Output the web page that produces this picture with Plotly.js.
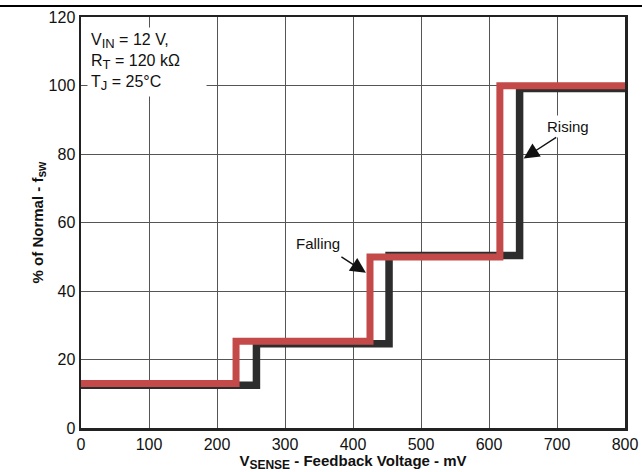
<!DOCTYPE html>
<html>
<head>
<meta charset="utf-8">
<script src="https://cdn.plot.ly/plotly-3.0.1.min.js"></script>
<style>
html,body{margin:0;padding:0;background:#fff;}
#chart{width:642px;height:472px;}
</style>
</head>
<body>
<div id="chart"></div>
<script>
// Rising (dark) and Falling (red) step curves: V_SENSE (mV) vs % of normal fsw
const risingX  = [0, 258, 258, 453, 453, 645, 645, 800];
const risingY  = [12.5, 12.5, 24.6, 24.6, 50.4, 50.4, 99.1, 99.1];
const fallingX = [0, 228, 228, 425, 425, 616, 616, 800];
const fallingY = [13.0, 13.0, 25.3, 25.3, 49.9, 49.9, 99.9, 99.9];
const xTicks = [0, 100, 200, 300, 400, 500, 600, 700, 800];
const yTicks = [0, 20, 40, 60, 80, 100, 120];
const SUB = (t, s) => '<sub><span style="font-size:' + s + 'px">' + t + '</span></sub>';
const conditionText = 'V' + SUB('IN', 13) + ' = 12 V,<br>R' + SUB('T', 13) + ' = 120 kΩ<br>T' + SUB('J', 13) + ' = 25°C';
const fallingLabel = 'Falling';
const risingLabel = 'Rising';
const xTitle = '<b>V' + SUB('SENSE', 12) + ' - Feedback Voltage - mV</b>';
const yTitle = '<b>% of Normal - f' + SUB('sw', 12) + '</b>';

const FONT = 'Liberation Sans, Arial, Helvetica, sans-serif';

const traces = [
  {x: risingX, y: risingY, mode: 'lines', line: {color: '#2d2d2d', width: 7.5, shape: 'linear'}, hoverinfo: 'skip', name: 'Rising'},
  {x: fallingX, y: fallingY, mode: 'lines', line: {color: '#c44a4a', width: 7, shape: 'linear'}, hoverinfo: 'skip', name: 'Falling'}
];

const axisCommon = {
  showline: true, mirror: true, linecolor: '#222', linewidth: 2.5,
  showgrid: true, gridcolor: '#555', gridwidth: 1,
  zeroline: false, ticks: '', tickfont: {family: FONT, size: 16, color: '#111'},
  fixedrange: true
};

const layout = {
  width: 642, height: 472,
  margin: {l: 81, r: 17, t: 17, b: 44, pad: 0},
  paper_bgcolor: '#fff', plot_bgcolor: '#fff',
  showlegend: false,
  font: {family: FONT, color: '#111'},
  xaxis: Object.assign({}, axisCommon, {
    range: [0, 800], tickvals: xTicks, ticktext: xTicks.map(String),
    title: {text: xTitle, font: {family: FONT, size: 15, color: '#111'}, standoff: 2}
  }),
  yaxis: Object.assign({}, axisCommon, {
    range: [0, 120], tickvals: yTicks, ticktext: yTicks.map(String),
    title: {text: yTitle, font: {family: FONT, size: 15, color: '#111'}, standoff: 2}
  }),
  shapes: [
    {type: 'line', xref: 'paper', yref: 'paper', x0: -0.16, x1: 1.04, y0: 1.0268, y1: 1.0268,
     line: {color: '#000', width: 2}}
  ],
  annotations: [
    {xref: 'paper', yref: 'paper', x: 0.011, y: 0.975, xanchor: 'left', yanchor: 'top',
     text: conditionText, showarrow: false, align: 'left', bgcolor: '#fff', width: 112,
     font: {family: FONT, size: 16, color: '#111'}, borderpad: 3},
    {x: 348, y: 54, xref: 'x', yref: 'y', text: fallingLabel, showarrow: false,
     xanchor: 'center', yanchor: 'middle', bgcolor: '#fff',
     font: {family: FONT, size: 15, color: '#111'}, borderpad: 2},
    {x: 419, y: 45.3, xref: 'x', yref: 'y', text: '', showarrow: true, ax: -26, ay: -17,
     arrowhead: 2, arrowsize: 2.2, arrowwidth: 1.4, arrowcolor: '#111'},
    {x: 716, y: 88, xref: 'x', yref: 'y', text: risingLabel, showarrow: false,
     xanchor: 'center', yanchor: 'middle', bgcolor: '#fff',
     font: {family: FONT, size: 15, color: '#111'}, borderpad: 2},
    {x: 651, y: 78.7, xref: 'x', yref: 'y', text: '', showarrow: true, ax: 34, ay: -22,
     arrowhead: 2, arrowsize: 2.2, arrowwidth: 1.4, arrowcolor: '#111'}
  ]
};

Plotly.newPlot('chart', traces, layout, {staticPlot: true, displayModeBar: false});
</script>
</body>
</html>
